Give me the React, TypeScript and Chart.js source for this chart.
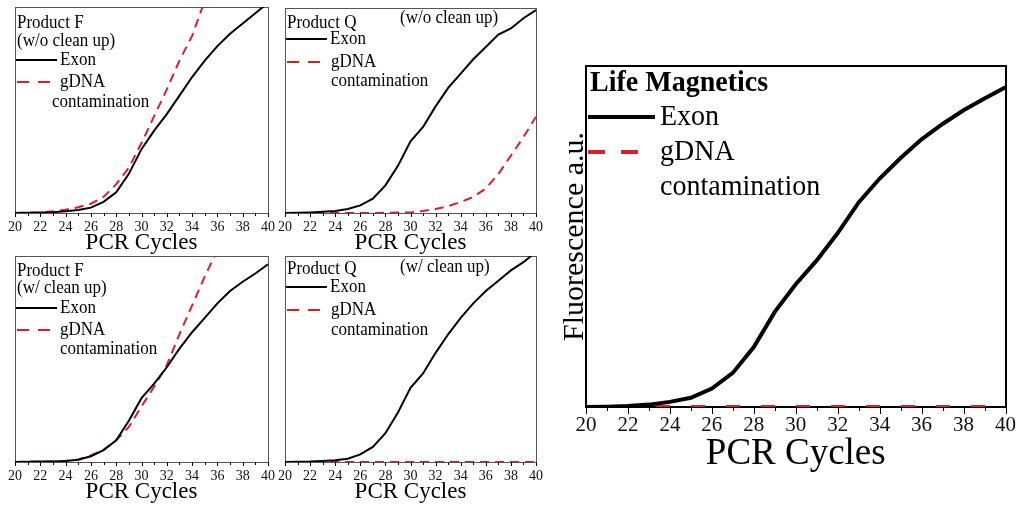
import React, { useEffect, useRef } from "react";
import { Chart, registerables } from "chart.js";

Chart.register(...registerables);

// ---------- data ----------
const cycles = [20, 21, 22, 23, 24, 25, 26, 27, 28, 29, 30, 31, 32, 33, 34, 35, 36, 37, 38, 39, 40];

const fNoCleanExon = [0, 0.001, 0.002, 0.004, 0.008, 0.015, 0.026, 0.054, 0.1, 0.19, 0.31, 0.4, 0.48, 0.57, 0.66, 0.74, 0.81, 0.87, 0.92, 0.97, 1.02];
const fNoCleanGdna = [0, 0.001, 0.003, 0.008, 0.016, 0.028, 0.045, 0.078, 0.14, 0.22, 0.34, 0.47, 0.6, 0.74, 0.86, 1.03, 1.2];

const qNoCleanExon = [0, 0.001, 0.003, 0.006, 0.01, 0.02, 0.037, 0.07, 0.135, 0.23, 0.35, 0.42, 0.52, 0.61, 0.68, 0.75, 0.81, 0.87, 0.9, 0.95, 0.99];
const qNoCleanGdna = [0, 0, 0, 0, 0, 0, 0, 0, 0.001, 0.002, 0.003, 0.01, 0.02, 0.033, 0.054, 0.078, 0.12, 0.19, 0.28, 0.37, 0.47];

const fCleanExon = [0, 0.001, 0.002, 0.003, 0.005, 0.011, 0.028, 0.057, 0.105, 0.2, 0.31, 0.38, 0.46, 0.55, 0.63, 0.7, 0.77, 0.83, 0.875, 0.915, 0.96];
const fCleanGdna = [0, 0.001, 0.002, 0.003, 0.005, 0.012, 0.032, 0.06, 0.105, 0.17, 0.27, 0.365, 0.47, 0.62, 0.76, 0.9, 1.03];

const qCleanExon = [0, 0.001, 0.002, 0.005, 0.008, 0.016, 0.037, 0.073, 0.14, 0.24, 0.36, 0.43, 0.53, 0.62, 0.7, 0.77, 0.83, 0.88, 0.93, 0.97, 1.02];
const qCleanGdna = [0, 0, 0, 0, 0, 0, 0, 0, 0, 0, 0, 0, 0, 0, 0, 0, 0, 0, 0, 0, 0];

const lifeExon = [0, 0.001, 0.003, 0.007, 0.015, 0.027, 0.054, 0.1, 0.176, 0.279, 0.36, 0.43, 0.51, 0.6, 0.67, 0.73, 0.785, 0.83, 0.87, 0.905, 0.938];
const lifeGdna = [0, 0, 0, 0, 0, 0, 0, 0, 0, 0, 0, 0, 0, 0, 0, 0, 0, 0, 0, 0, 0];

const xTitle = "PCR Cycles";
const yTitle = "Fluorescence a.u.";
const exonLabel = "Exon";
const gdnaLabel1 = "gDNA";
const gdnaLabel2 = "contamination";

const RED = "#dc1e28";
const SERIF = "'Liberation Serif', 'Times New Roman', serif";

type LegendItem = {
  text?: string;
  x: number;
  y: number;
  bold?: boolean;
  size: number;
  line?: { x0: number; x1: number; color: string; dash: number[]; width: number };
};

type PanelProps = {
  cx: number; cy: number; cw: number; ch: number;
  plot: { l: number; t: number; r: number; b: number };
  xAxisH: number;
  yAxisW?: number;
  showYTitle?: boolean;
  exon: number[];
  gdna: number[];
  lineW: number;
  dash: number[];
  tickFont: number;
  tickPad: number;
  titleFont: number;
  yTitleFont?: number;
  majorTick: number;
  minorTick: number;
  frameColor: string;
  frameWidth: number;
  textStretch: number;
  legend: LegendItem[];
};

function toPoints(vals: number[]) {
  return vals.map((v, i) => ({ x: cycles[i], y: v }));
}

function Panel(p: PanelProps) {
  const ref = useRef<HTMLCanvasElement | null>(null);
  useEffect(() => {
    if (!ref.current) return;
    const yW = p.showYTitle ? (p.yAxisW || 0) : 0;
    const padding = {
      left: p.plot.l - p.cx - yW,
      top: p.plot.t - p.cy,
      right: p.cx + p.cw - p.plot.r,
      bottom: p.cy + p.ch - p.plot.b - p.xAxisH,
    };

    const framePlugin = {
      id: "frameTicks",
      beforeDatasetsDraw(chart: any) {
        const { ctx, chartArea } = chart;
        const xs = chart.scales.x;
        ctx.save();
        ctx.strokeStyle = p.frameColor;
        ctx.lineWidth = p.frameWidth;
        ctx.setLineDash([]);
        const off = p.frameWidth % 2 === 1 ? 0.5 : 0;
        ctx.strokeRect(
          Math.round(chartArea.left) + off,
          Math.round(chartArea.top) + off,
          Math.round(chartArea.right - chartArea.left),
          Math.round(chartArea.bottom - chartArea.top)
        );
        ctx.strokeStyle = "#000";
        ctx.lineWidth = 1;
        const yb = Math.round(chartArea.bottom) + off;
        xs.ticks.forEach((t: any) => {
          const px = Math.round(xs.getPixelForValue(t.value)) + 0.5;
          const len = t.value % 2 === 0 ? p.majorTick : p.minorTick;
          ctx.beginPath();
          ctx.moveTo(px, yb);
          ctx.lineTo(px, yb + len + p.frameWidth / 2);
          ctx.stroke();
        });
        ctx.restore();
      },
    };

    const legendPlugin = {
      id: "customLegend",
      afterDraw(chart: any) {
        const { ctx } = chart;
        ctx.save();
        p.legend.forEach((it) => {
          const x = it.x - p.cx;
          const y = it.y - p.cy;
          if (it.line) {
            ctx.strokeStyle = it.line.color;
            ctx.lineWidth = it.line.width;
            ctx.setLineDash(it.line.dash);
            ctx.beginPath();
            ctx.moveTo(it.line.x0 - p.cx, y);
            ctx.lineTo(it.line.x1 - p.cx, y);
            ctx.stroke();
            ctx.setLineDash([]);
          }
          if (it.text) {
            ctx.save();
            ctx.fillStyle = "#000";
            ctx.font = `${it.bold ? "bold " : ""}${it.size}px ${SERIF}`;
            ctx.textBaseline = "middle";
            ctx.textAlign = "left";
            ctx.translate(x, y);
            ctx.scale(1, p.textStretch);
            ctx.fillText(it.text, 0, 0);
            ctx.restore();
          }
        });
        ctx.restore();
      },
    };

    const chart = new Chart(ref.current, {
      type: "line",
      data: {
        datasets: [
          {
            label: exonLabel,
            data: toPoints(p.exon),
            borderColor: "#000",
            borderWidth: p.lineW,
            pointRadius: 0,
            tension: 0,
            fill: false,
          },
          {
            label: gdnaLabel1 + " " + gdnaLabel2,
            data: toPoints(p.gdna),
            borderColor: RED,
            borderWidth: p.lineW,
            borderDash: p.dash,
            pointRadius: 0,
            tension: 0,
            fill: false,
          },
        ],
      },
      options: {
        animation: false,
        responsive: false,
        maintainAspectRatio: false,
        layout: { padding },
        plugins: {
          legend: { display: false },
          tooltip: { enabled: false },
        },
        scales: {
          x: {
            type: "linear",
            min: 20,
            max: 40,
            ticks: {
              stepSize: 1,
              autoSkip: false,
              maxRotation: 0,
              minRotation: 0,
              padding: p.tickPad,
              color: "#111",
              font: { family: SERIF, size: p.tickFont, lineHeight: 1 },
              callback: (v: any) => (Number(v) % 2 === 0 ? String(v) : ""),
            },
            grid: { display: false, drawTicks: false, drawOnChartArea: false },
            border: { display: false },
            title: {
              display: true,
              text: xTitle,
              color: "#000",
              font: { family: SERIF, size: p.titleFont, lineHeight: 1 },
              padding: { top: 0, bottom: 0 },
            },
            afterFit: (s: any) => {
              s.height = p.xAxisH;
            },
          },
          y: {
            display: !!p.showYTitle,
            min: 0,
            max: 1,
            ticks: { display: false },
            grid: { display: false, drawTicks: false },
            border: { display: false },
            title: {
              display: !!p.showYTitle,
              text: yTitle,
              color: "#000",
              font: { family: SERIF, size: p.yTitleFont || 30, lineHeight: 1 },
              padding: { top: 0, bottom: 0 },
            },
            afterFit: (s: any) => {
              s.width = yW;
            },
          },
        },
      } as any,
      plugins: [framePlugin, legendPlugin],
    });
    return () => chart.destroy();
  }, []);
  return (
    <canvas
      ref={ref}
      width={p.cw}
      height={p.ch}
      style={{ position: "absolute", left: p.cx, top: p.cy, width: p.cw, height: p.ch }}
    />
  );
}

function smallLegend(
  title1: string,
  title2: string,
  t1: { x: number; y: number },
  t2: { x: number; y: number },
  ox: number,
  exonY: number,
  gY: number,
  gX: number,
  cY: number,
  cX: number
): LegendItem[] {
  const s = 17;
  return [
    { text: title1, x: t1.x, y: t1.y, size: s },
    { text: title2, x: t2.x, y: t2.y, size: s },
    { text: exonLabel, x: ox + 45, y: exonY, size: s, line: { x0: ox + 1, x1: ox + 42, color: "#000", dash: [], width: 2 } },
    { text: gdnaLabel1, x: gX, y: gY, size: s, line: { x0: ox + 2, x1: ox + 36, color: RED, dash: [12, 9], width: 2 } },
    { text: gdnaLabel2, x: cX, y: cY, size: s },
  ];
}

const smallCommon = {
  xAxisH: 41,
  lineW: 2,
  dash: [9, 6],
  tickFont: 14,
  tickPad: 7,
  titleFont: 23,
  majorTick: 3,
  minorTick: 2,
  frameColor: "#555",
  frameWidth: 1,
  textStretch: 1.15,
};

export default function App() {
  return (
    <div
      style={{
        position: "absolute",
        left: 0,
        top: 0,
        width: 1024,
        height: 508,
        background: "#fff",
        overflow: "hidden",
      }}
    >
      <Panel
        {...smallCommon}
        cx={0} cy={0} cw={285} ch={260}
        plot={{ l: 15, t: 7, r: 268, b: 213 }}
        exon={fNoCleanExon}
        gdna={fNoCleanGdna}
        legend={smallLegend("Product F", "(w/o clean up)", { x: 17, y: 23 }, { x: 17, y: 41 }, 15, 60, 82, 60, 102, 52)}
      />
      <Panel
        {...smallCommon}
        cx={270} cy={0} cw={280} ch={260}
        plot={{ l: 285, t: 8, r: 538, b: 213 }}
        exon={qNoCleanExon}
        gdna={qNoCleanGdna}
        legend={smallLegend("Product Q", "(w/o clean up)", { x: 287, y: 23 }, { x: 400, y: 18 }, 285, 39, 62, 331, 81, 331)}
      />
      <Panel
        {...smallCommon}
        cx={0} cy={249} cw={285} ch={259}
        plot={{ l: 15, t: 256, r: 268, b: 462 }}
        exon={fCleanExon}
        gdna={fCleanGdna}
        legend={smallLegend("Product F", "(w/ clean up)", { x: 17, y: 271 }, { x: 17, y: 288 }, 15, 308, 330, 60, 349, 60)}
      />
      <Panel
        {...smallCommon}
        cx={270} cy={249} cw={280} ch={259}
        plot={{ l: 285, t: 256, r: 538, b: 462 }}
        exon={qCleanExon}
        gdna={qCleanGdna}
        legend={smallLegend("Product Q", "(w/ clean up)", { x: 287, y: 269 }, { x: 400, y: 267 }, 285, 287, 310, 331, 330, 331)}
      />
      <Panel
        cx={550} cy={40} cw={474} ch={468}
        plot={{ l: 586, t: 66, r: 1006, b: 407 }}
        xAxisH={66}
        yAxisW={26}
        showYTitle={true}
        yTitleFont={30}
        exon={lifeExon}
        gdna={lifeGdna}
        lineW={4}
        dash={[14, 21]}
        tickFont={21}
        tickPad={8}
        titleFont={37}
        majorTick={6}
        minorTick={3}
        frameColor="#000"
        frameWidth={2}
        textStretch={1.08}
        legend={[
          { text: "Life Magnetics", x: 590, y: 83, bold: true, size: 28 },
          { text: exonLabel, x: 660, y: 117, size: 28, line: { x0: 588, x1: 655, color: "#000", dash: [], width: 4 } },
          { text: gdnaLabel1, x: 660, y: 152, size: 28, line: { x0: 588, x1: 642, color: RED, dash: [17, 16], width: 4 } },
          { text: gdnaLabel2, x: 660, y: 187, size: 28 },
        ]}
      />
    </div>
  );
}
